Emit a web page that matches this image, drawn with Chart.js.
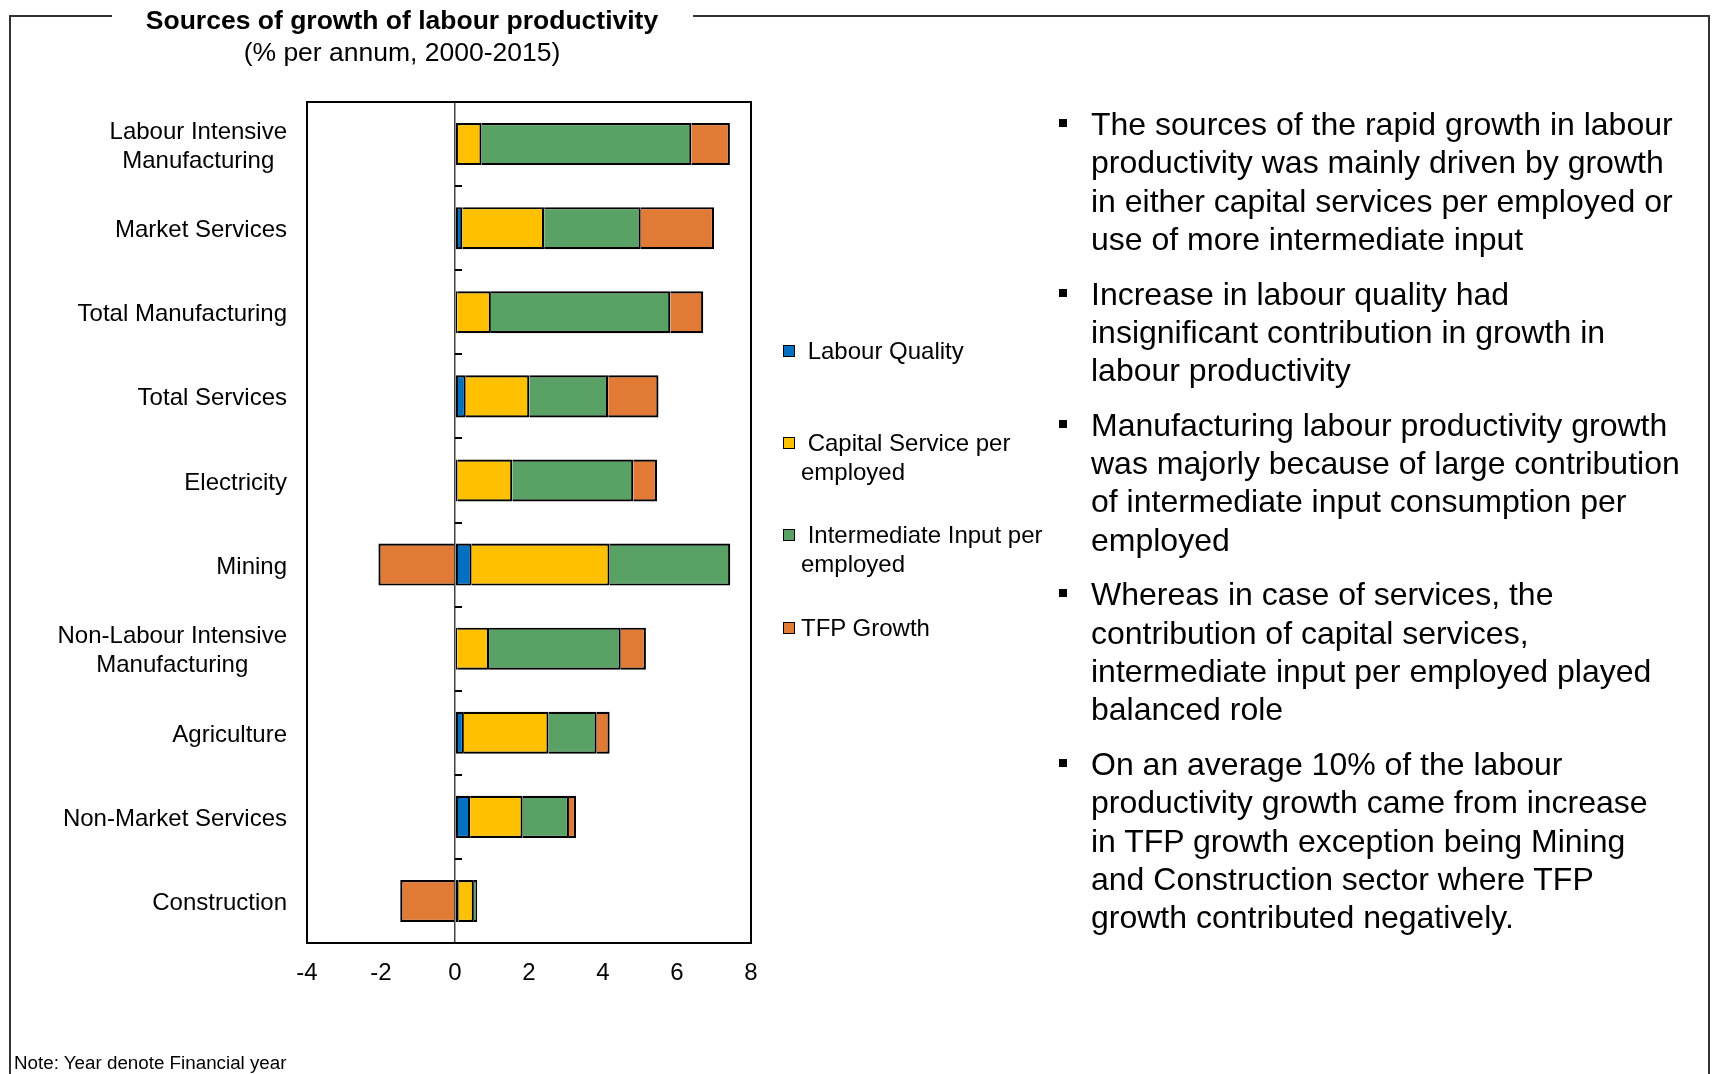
<!DOCTYPE html>
<html>
<head>
<meta charset="utf-8">
<title>Sources of growth of labour productivity</title>
<script src="https://cdn.jsdelivr.net/npm/chart.js@4.4.1/dist/chart.umd.min.js"></script>
<style>
  html, body { margin: 0; padding: 0; background: #fff; }
  body { width: 1715px; height: 1074px; position: relative; overflow: hidden; font-family: "Liberation Sans", Arial, sans-serif; color: #000; }
  #chart { position: absolute; left: 0; top: 0; }
  .line { position: absolute; background: #333; }
  .title { position: absolute; left: 0; width: 804px; text-align: center; white-space: nowrap; }
  #title { top: 5px; font-size: 26.5px; font-weight: bold; line-height: 30px; }
  #subtitle { top: 37px; font-size: 26.5px; line-height: 30px; }
  #legend { position: absolute; left: 783px; top: 0; }
  #legend .item { position: absolute; left: 0; width: 270px; }
  #legend .box { position: absolute; left: 0; width: 10px; height: 10px; border: 1.5px solid #000; }
  #legend .txt { position: absolute; left: 18px; width: 245px; font-size: 24px; line-height: 28.5px; white-space: pre-wrap; }
  #notes { position: absolute; left: 1091px; top: 105px; margin: 0; padding: 0; list-style: none; font-size: 32px; line-height: 38.3px; }
  #notes li { position: relative; margin-bottom: 16.4px; white-space: nowrap; }
  #notes li::before { content: ""; position: absolute; left: -32px; top: 14px; width: 8px; height: 8px; background: #000; }
  #note { position: absolute; left: 14px; top: 1052px; font-size: 18.8px; line-height: 22px; white-space: nowrap; }
</style>
</head>
<body>
<canvas id="chart" width="1715" height="1074"></canvas>

<div class="line" style="left:9px; top:15px; width:2px; height:1059px;"></div>
<div class="line" style="left:9px; top:15px; width:103px; height:2px;"></div>
<div class="line" style="left:693px; top:15px; width:1017px; height:2px;"></div>
<div class="line" style="left:1708px; top:15px; width:2px; height:1059px;"></div>

<div class="title" id="title">Sources of growth of labour productivity</div>
<div class="title" id="subtitle">(% per annum, 2000-2015)</div>

<div id="legend"></div>

<ul id="notes">
  <li>The sources of the rapid growth in labour<br>productivity was mainly driven by growth<br>in either capital services per employed or<br>use of more intermediate input</li>
  <li>Increase in labour quality had<br>insignificant contribution in growth in<br>labour productivity</li>
  <li>Manufacturing labour productivity growth<br>was majorly because of large contribution<br>of intermediate input consumption per<br>employed</li>
  <li>Whereas in case of services, the<br>contribution of capital services,<br>intermediate input per employed played<br>balanced role</li>
  <li>On an average 10% of the labour<br>productivity growth came from increase<br>in TFP growth exception being Mining<br>and Construction sector where TFP<br>growth contributed negatively.</li>
</ul>

<div id="note">Note: Year denote Financial year</div>

<script>
// sectors, top to bottom
const categories = [
  ['Labour Intensive', 'Manufacturing'],
  'Market Services',
  'Total Manufacturing',
  'Total Services',
  'Electricity',
  'Mining',
  ['Non-Labour Intensive', 'Manufacturing'],
  'Agriculture',
  'Non-Market Services',
  'Construction',
];

// contributions, % per annum
const labourQuality     = [0.08, 0.20, 0.06, 0.29, 0.07, 0.45, 0.06, 0.24, 0.41, 0.10];
const capitalService    = [0.64, 2.21, 0.91, 1.72, 1.48, 3.73, 0.86, 2.29, 1.42, 0.41];
const intermediateInput = [5.67, 2.61, 4.85, 2.13, 3.27, 3.26, 3.56, 1.30, 1.25, 0.09];
const tfpGrowth         = [1.04, 1.98, 0.89, 1.36, 0.64, -2.07, 0.68, 0.35, 0.19, -1.48];

const seriesNames  = [' Labour Quality', ' Capital Service per employed', ' Intermediate Input per employed', 'TFP Growth'];
const seriesColors = ['#0070C0', '#FFC000', '#5AA166', '#E07A35'];
const seriesData   = [labourQuality, capitalService, intermediateInput, tfpGrowth];

const xTicks = [-4, -2, 0, 2, 4, 6, 8];

const FONT = '"Liberation Sans", Arial, sans-serif';

// frame round the plot, plus the small marks on the zero line between sectors
const plotFrame = {
  id: 'plotFrame',
  afterDatasetsDraw(chart) {
    const { ctx, chartArea: a, scales: { x, y } } = chart;
    ctx.save();
    ctx.strokeStyle = '#000';
    ctx.lineWidth = 2;
    ctx.strokeRect(a.left, a.top, a.right - a.left, a.bottom - a.top);
    const x0 = x.getPixelForValue(0);
    ctx.beginPath();
    for (let i = 0; i <= categories.length; i++) {
      const py = Math.round(y.getPixelForValue(i - 0.5));
      ctx.moveTo(x0, py);
      ctx.lineTo(x0 + 7, py);
    }
    ctx.stroke();
    ctx.restore();
  }
};

// sector names: each block sits right against the axis, its lines centred on each other
const sectorLabels = {
  id: 'sectorLabels',
  afterDraw(chart) {
    const { ctx, chartArea: a, scales: { y } } = chart;
    const lh = 28.8;
    ctx.save();
    ctx.font = `24px ${FONT}`;
    ctx.fillStyle = '#000';
    ctx.textAlign = 'center';
    ctx.textBaseline = 'middle';
    categories.forEach((cat, i) => {
      const lines = Array.isArray(cat) ? cat : [cat];
      const w = Math.max(...lines.map((l) => ctx.measureText(l).width));
      const cx = a.left - 20 - w / 2;
      const cy = y.getPixelForValue(i) + 2.5;
      lines.forEach((l, k) => {
        ctx.fillText(l, cx, cy + (k - (lines.length - 1) / 2) * lh);
      });
    });
    ctx.restore();
  }
};

new Chart(document.getElementById('chart'), {
  type: 'bar',
  data: {
    labels: categories,
    datasets: seriesNames.map((name, i) => ({
      label: name.trim(),
      data: seriesData[i],
      backgroundColor: seriesColors[i],
      borderColor: '#000',
      borderWidth: 2.2,
      // first segment gets all four sides, the rest share the edge with the one before
      borderSkipped: i === 0 ? false : 'start',
      barPercentage: 0.5,
      categoryPercentage: 1,
    })),
  },
  options: {
    indexAxis: 'y',
    responsive: false,
    animation: false,
    devicePixelRatio: 1,
    layout: { padding: { left: 0, top: 102, right: 964, bottom: 71 } },
    plugins: { legend: { display: false }, tooltip: { enabled: false } },
    scales: {
      x: {
        stacked: true,
        min: -4,
        max: 8,
        afterBuildTicks: (s) => { s.ticks = xTicks.map((v) => ({ value: v })); },
        afterFit: (s) => { s.height = 60; },
        border: { display: false },
        grid: {
          drawTicks: false,
          color: (c) => (c.tick && c.tick.value === 0 ? '#444' : 'rgba(0,0,0,0)'),
          lineWidth: 1.5,
        },
        ticks: { color: '#000', padding: 16, font: { family: FONT, size: 24 } },
      },
      y: {
        stacked: true,
        afterFit: (s) => { s.width = 307; },
        border: { display: false },
        grid: { display: false, drawTicks: false },
        ticks: { display: false, autoSkip: false },
      },
    },
  },
  plugins: [plotFrame, sectorLabels],
});

// legend beside the plot
const legendTops = [337, 429, 521, 614];
const legend = document.getElementById('legend');
seriesNames.forEach((name, i) => {
  const item = document.createElement('div');
  item.className = 'item';
  item.style.top = legendTops[i] + 'px';
  item.innerHTML = `<span class="box" style="top:8px;background:${seriesColors[i]}"></span><span class="txt">${name}</span>`;
  legend.appendChild(item);
});
</script>
</body>
</html>
